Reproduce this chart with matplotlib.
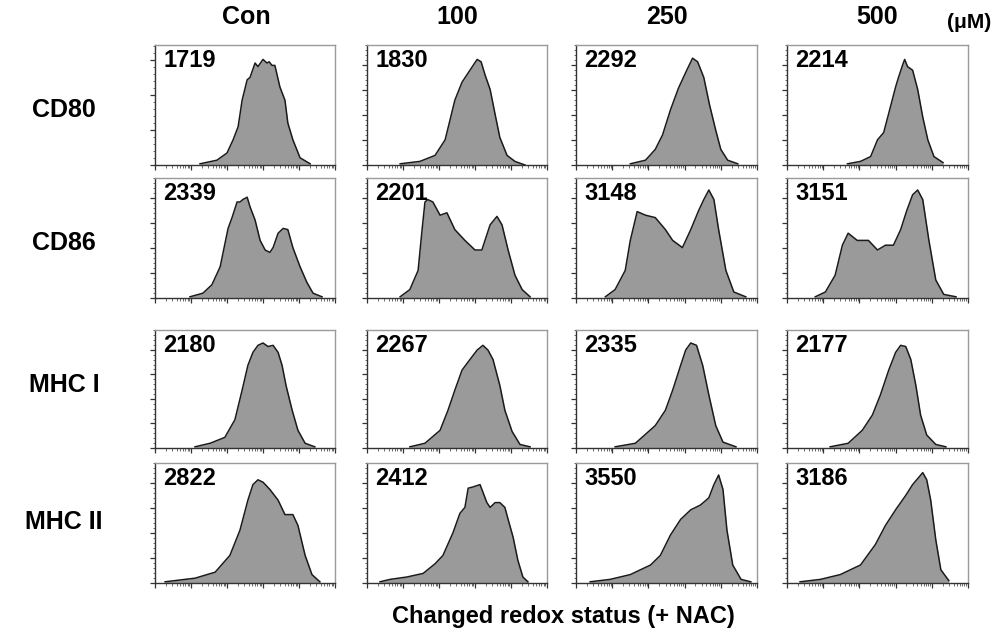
import numpy as np
import matplotlib
matplotlib.use('Agg')
import matplotlib.pyplot as plt
from matplotlib.ticker import MultipleLocator, LogLocator, NullFormatter

plt.rcParams['font.family'] = ['Liberation Sans', 'DejaVu Sans']
plt.rcParams['font.weight'] = 'bold'

doses = ['Con', '100', '250', '500']
markers = ['CD80', 'CD86', 'MHC I', 'MHC II']

# MFI values printed in each panel (rows = markers, cols = doses)
cd80_mfi = [1719, 1830, 2292, 2214]
cd86_mfi = [2339, 2201, 3148, 3151]
mhc1_mfi = [2180, 2267, 2335, 2177]
mhc2_mfi = [2822, 2412, 3550, 3186]

# histogram outlines: x in log10 fluorescence, y in % of panel height
cd80_x = [
    [1.25, 1.72, 2.00, 2.17, 2.31, 2.42, 2.56, 2.64, 2.78, 2.86, 3.00, 3.11, 3.17, 3.25, 3.33, 3.47, 3.61, 3.69, 3.83, 4.03, 4.31],
    [0.92, 1.47, 1.89, 2.17, 2.31, 2.44, 2.64, 2.86, 3.06, 3.17, 3.28, 3.42, 3.56, 3.69, 3.89, 4.11, 4.39],
    [1.50, 1.92, 2.19, 2.39, 2.61, 2.83, 3.06, 3.22, 3.36, 3.53, 3.69, 3.86, 4.00, 4.19, 4.47],
    [1.67, 2.03, 2.31, 2.50, 2.67, 2.81, 3.00, 3.08, 3.19, 3.25, 3.33, 3.47, 3.61, 3.75, 3.89, 4.06, 4.31],
]
cd80_y = [
    [1, 4, 10, 21, 32, 54, 71, 73, 85, 82, 88, 85, 86, 83, 83, 65, 54, 35, 21, 6, 1],
    [1, 3, 8, 21, 38, 54, 69, 79, 88, 86, 75, 63, 42, 23, 8, 3, 0],
    [1, 4, 13, 25, 46, 64, 79, 89, 86, 73, 50, 29, 13, 4, 1],
    [1, 3, 7, 21, 27, 43, 65, 73, 83, 88, 82, 79, 63, 40, 21, 7, 2],
]
cd86_x = [
    [0.97, 1.33, 1.58, 1.81, 2.03, 2.14, 2.28, 2.36, 2.44, 2.56, 2.64, 2.78, 2.92, 3.06, 3.19, 3.28, 3.42, 3.56, 3.69, 3.83, 4.03, 4.22, 4.39, 4.64],
    [0.92, 1.19, 1.42, 1.53, 1.61, 1.69, 1.83, 2.03, 2.22, 2.44, 2.72, 3.00, 3.19, 3.42, 3.61, 3.75, 3.92, 4.11, 4.31, 4.53],
    [0.81, 1.08, 1.36, 1.50, 1.69, 1.92, 2.19, 2.47, 2.67, 2.94, 3.17, 3.39, 3.53, 3.67, 3.81, 3.94, 4.14, 4.36, 4.69],
    [0.78, 1.06, 1.33, 1.53, 1.69, 1.94, 2.25, 2.50, 2.72, 2.94, 3.14, 3.31, 3.47, 3.61, 3.75, 3.92, 4.11, 4.33, 4.67],
]
cd86_y = [
    [1, 4, 11, 26, 58, 67, 80, 80, 82, 84, 76, 65, 48, 40, 38, 42, 54, 58, 57, 42, 26, 13, 4, 1],
    [1, 7, 23, 57, 80, 82, 80, 69, 71, 57, 48, 40, 40, 61, 68, 61, 40, 19, 7, 1],
    [1, 7, 23, 48, 72, 69, 67, 57, 48, 42, 57, 73, 82, 90, 82, 57, 23, 5, 1],
    [1, 5, 19, 44, 54, 48, 48, 40, 44, 44, 57, 73, 86, 90, 82, 48, 15, 3, 1],
]
mhc1_x = [
    [1.11, 1.53, 1.94, 2.22, 2.42, 2.58, 2.72, 2.86, 3.00, 3.14, 3.28, 3.42, 3.53, 3.64, 3.81, 3.97, 4.17, 4.44],
    [1.19, 1.61, 2.03, 2.25, 2.44, 2.64, 2.86, 3.06, 3.22, 3.36, 3.50, 3.69, 3.83, 4.03, 4.25, 4.53],
    [1.08, 1.64, 2.19, 2.47, 2.67, 2.89, 3.03, 3.17, 3.33, 3.50, 3.67, 3.86, 4.06, 4.42],
    [1.19, 1.69, 2.08, 2.36, 2.58, 2.81, 3.00, 3.14, 3.28, 3.42, 3.56, 3.69, 3.86, 4.11, 4.39],
]
mhc1_y = [
    [1, 4, 9, 24, 49, 70, 81, 87, 89, 86, 87, 81, 70, 53, 32, 15, 4, 1],
    [1, 4, 15, 32, 49, 66, 75, 83, 87, 83, 75, 53, 32, 14, 3, 1],
    [1, 4, 19, 32, 49, 70, 83, 89, 87, 70, 45, 19, 5, 1],
    [1, 4, 15, 28, 45, 66, 81, 87, 86, 75, 53, 28, 11, 3, 1],
]
mhc2_x = [
    [0.28, 1.11, 1.67, 2.08, 2.36, 2.58, 2.72, 2.86, 3.00, 3.19, 3.42, 3.61, 3.83, 3.97, 4.17, 4.36, 4.58],
    [0.36, 0.64, 1.11, 1.56, 1.89, 2.11, 2.39, 2.58, 2.72, 2.81, 2.94, 3.14, 3.33, 3.42, 3.56, 3.69, 3.83, 3.92, 4.06, 4.19, 4.33, 4.47],
    [0.39, 0.94, 1.50, 2.06, 2.33, 2.61, 2.89, 3.17, 3.44, 3.67, 3.81, 3.94, 4.06, 4.17, 4.33, 4.56, 4.83],
    [0.36, 0.92, 1.47, 2.03, 2.44, 2.72, 3.00, 3.28, 3.47, 3.64, 3.75, 3.86, 3.97, 4.11, 4.25, 4.47],
]
mhc2_y = [
    [1, 4, 9, 23, 44, 69, 82, 86, 84, 78, 69, 57, 57, 48, 23, 7, 1],
    [1, 3, 5, 8, 16, 23, 42, 58, 63, 79, 80, 82, 67, 63, 67, 67, 63, 53, 38, 19, 5, 1],
    [1, 3, 7, 15, 23, 40, 53, 61, 65, 71, 82, 90, 78, 44, 15, 3, 1],
    [1, 3, 7, 15, 32, 48, 61, 73, 82, 88, 92, 86, 69, 36, 11, 2],
]

# y major tick step (% of panel height) per panel
ytick_step = [
    [29.2, 20.8, 20.8, 20.8],
    [20.8, 20.8, 20.8, 20.8],
    [20.8, 20.8, 20.8, 20.8],
    [20.8, 20.8, 20.8, 20.8],
]

all_x = [cd80_x, cd86_x, mhc1_x, mhc2_x]
all_y = [cd80_y, cd86_y, mhc1_y, mhc2_y]
all_mfi = [cd80_mfi, cd86_mfi, mhc1_mfi, mhc2_mfi]

W, H = 1000, 634
fig = plt.figure(figsize=(W / 100, H / 100), dpi=100)

col_left = [155, 367, 576, 787]
col_w = [180, 180, 181, 181]
row_box = [(45, 165), (178, 298), (330, 448), (463, 583)]

for r in range(4):
    top, bot = row_box[r]
    for c in range(4):
        ax = fig.add_axes([col_left[c] / W, 1 - bot / H, col_w[c] / W, (bot - top) / H])
        xs = 10 ** np.array(all_x[r][c])
        ys = np.array(all_y[r][c])
        ax.fill_between(xs, ys, 0, color='#9a9a9a', lw=0)
        ax.plot(xs, ys, color='#1a1a1a', lw=1.1)
        ax.set_xscale('log')
        ax.set_xlim(1, 1e5)
        ax.set_ylim(0, 100)
        ax.xaxis.set_major_locator(LogLocator(base=10, numticks=10))
        ax.xaxis.set_minor_locator(LogLocator(base=10, subs=np.arange(2, 10), numticks=20))
        ax.xaxis.set_major_formatter(NullFormatter())
        ax.xaxis.set_minor_formatter(NullFormatter())
        step = ytick_step[r][c]
        ax.yaxis.set_major_locator(MultipleLocator(step))
        ax.yaxis.set_minor_locator(MultipleLocator(step / 5))
        ax.yaxis.set_major_formatter(NullFormatter())
        ax.tick_params(which='major', direction='out', length=3.5, width=0.9, color='#333333')
        ax.tick_params(which='minor', direction='out', length=1.8, width=0.6, color='#555555')
        ax.tick_params(top=False, right=False)
        for side in ['left', 'bottom']:
            ax.spines[side].set_color('#333333')
            ax.spines[side].set_linewidth(1.0)
        for side in ['top', 'right']:
            ax.spines[side].set_color('#9a9a9a')
            ax.spines[side].set_linewidth(1.0)
        ax.text(0.045, 0.87, str(all_mfi[r][c]), transform=ax.transAxes,
                fontsize=17, fontweight='bold', ha='left', va='center')

col_center = [246, 457, 667, 877]
for c in range(4):
    fig.text(col_center[c] / W, 1 - 17 / H, doses[c], fontsize=18, fontweight='bold',
             ha='center', va='center')
fig.text(969 / W, 1 - 22 / H, '(μM)', fontsize=15, fontweight='bold', ha='center', va='center')

row_center = [110, 243, 385, 522]
for r in range(4):
    fig.text(64 / W, 1 - row_center[r] / H, markers[r], fontsize=18, fontweight='bold',
             ha='center', va='center')

fig.text(563 / W, 1 - 617 / H, 'Changed redox status (+ NAC)', fontsize=17,
         fontweight='bold', ha='center', va='center')

fig.savefig('out.png', dpi=100)
